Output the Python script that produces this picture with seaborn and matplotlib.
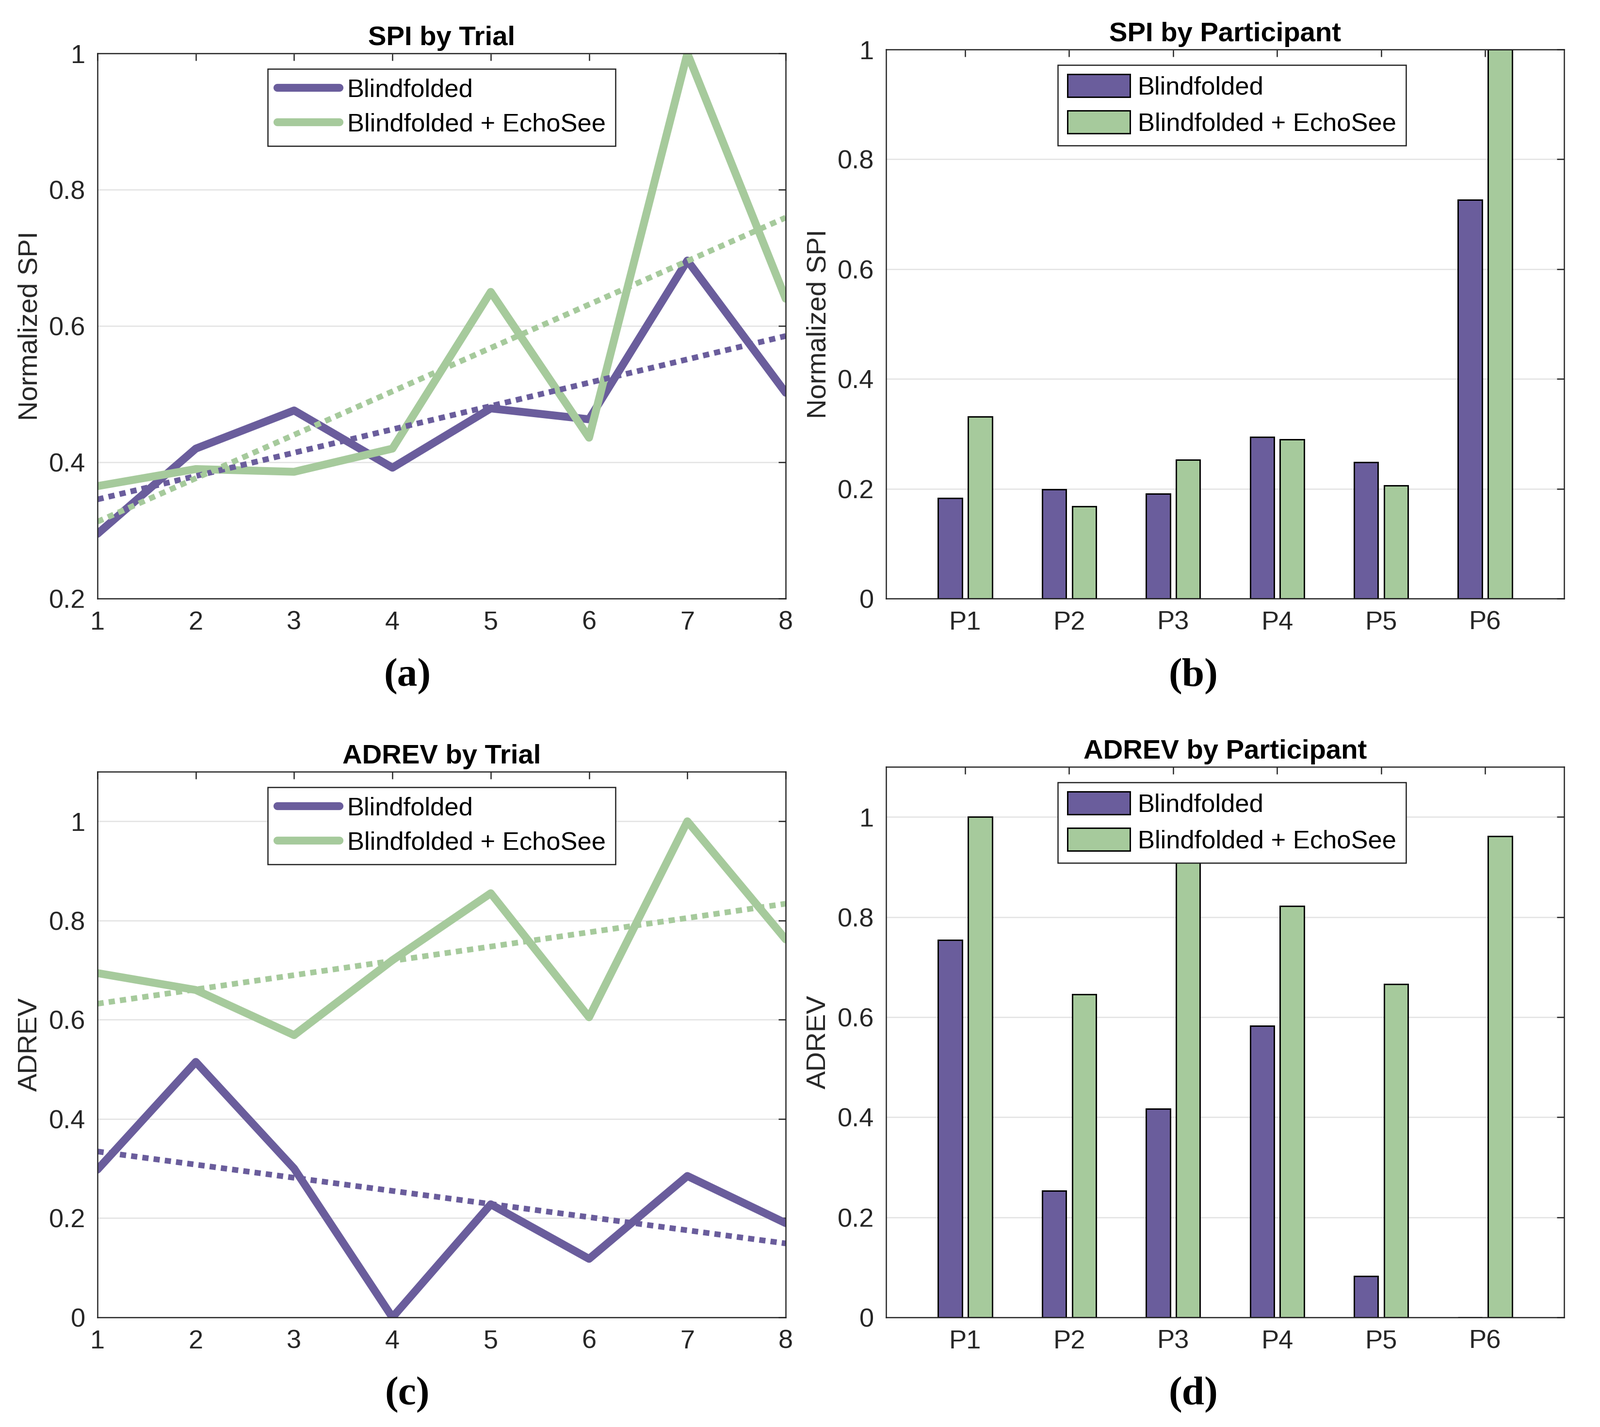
import numpy as np
import pandas as pd
import matplotlib
matplotlib.use("Agg")
import matplotlib.pyplot as plt
import seaborn as sns
from matplotlib.ticker import FuncFormatter

# ---------------- data ----------------
trials = [1, 2, 3, 4, 5, 6, 7, 8]
spi_blind = [0.295, 0.420, 0.476, 0.392, 0.479, 0.463, 0.696, 0.502]
spi_echo = [0.365, 0.390, 0.386, 0.420, 0.650, 0.436, 1.000, 0.640]
adrev_blind = [0.298, 0.515, 0.300, 0.000, 0.228, 0.118, 0.285, 0.190]
adrev_echo = [0.694, 0.660, 0.569, 0.720, 0.855, 0.605, 1.000, 0.762]

participants = ["P1", "P2", "P3", "P4", "P5", "P6"]
spi_part_blind = [0.183, 0.199, 0.191, 0.294, 0.248, 0.726]
spi_part_echo = [0.331, 0.168, 0.253, 0.290, 0.206, 1.000]
adrev_part_blind = [0.754, 0.253, 0.417, 0.582, 0.082, 0.000]
adrev_part_echo = [1.000, 0.645, 0.970, 0.822, 0.666, 0.961]

conditions = ["Blindfolded", "Blindfolded + EchoSee"]
colors = ["#6A5D9C", "#A6CA9C"]

titles = ["SPI by Trial", "SPI by Participant", "ADREV by Trial", "ADREV by Participant"]
ylabels = ["Normalized SPI", "Normalized SPI", "ADREV", "ADREV"]
panel_tags = ["(a)", "(b)", "(c)", "(d)"]

# ---------------- style ----------------
sns.set_theme(style="white")
plt.rcParams["font.family"] = ["Liberation Sans", "DejaVu Sans"]
plt.rcParams["axes.edgecolor"] = "#262626"
plt.rcParams["axes.linewidth"] = 0.6

FS = 13
LFS = 12.6
INK = "#262626"

fig = plt.figure(figsize=(3299 / 300, 2942 / 300), dpi=300)

W, H = 3299.0, 2942.0
def box(l, t, r, b):
    return [l / W, 1 - b / H, (r - l) / W, (b - t) / H]

ax_a = fig.add_axes(box(201, 110, 1620, 1234))
ax_b = fig.add_axes(box(1827, 102, 3225, 1234))
ax_c = fig.add_axes(box(201, 1591, 1620, 2716))
ax_d = fig.add_axes(box(1827, 1581, 3225, 2716))

fmt = FuncFormatter(lambda v, p: f"{v:g}")


def style_axes(ax, title, ylabel):
    ax.set_title(title, fontsize=13.5, fontweight="bold", color="black", pad=4)
    ax.set_ylabel(ylabel, fontsize=13.5, color=INK, labelpad=3)
    ax.set_xlabel("")
    ax.tick_params(direction="in", top=True, right=True, length=3.6, width=0.6,
                   color=INK, labelcolor=INK, labelsize=FS, pad=6)
    ax.yaxis.grid(True, color="#e3e3e3", lw=0.6)
    ax.xaxis.grid(False)
    ax.set_axisbelow(True)
    ax.yaxis.set_major_formatter(fmt)
    for s in ax.spines.values():
        s.set_visible(True)
        s.set_color(INK)
        s.set_linewidth(0.6)


def make_legend(ax, handles, labels, anchor_x, patch=False):
    leg = ax.legend(handles, labels, loc="upper center", bbox_to_anchor=(anchor_x, 1.0),
                    borderaxespad=0.6, fontsize=LFS, frameon=True, fancybox=False,
                    framealpha=1.0, edgecolor="#222222", handlelength=2.45,
                    handleheight=1.0 if patch else 0.7, handletextpad=0.3,
                    labelspacing=0.42, borderpad=0.38)
    leg.get_frame().set_linewidth(0.6)
    for t in leg.get_texts():
        t.set_color("black")
    return leg


def line_panel(ax, blind, echo, ylim, yticks, title, ylabel):
    df = pd.DataFrame({
        "Trial": trials * 2,
        "value": list(blind) + list(echo),
        "Condition": [conditions[0]] * len(trials) + [conditions[1]] * len(trials),
    })
    sns.lineplot(data=df, x="Trial", y="value", hue="Condition", hue_order=conditions,
                 palette=colors, lw=3.9, ax=ax, legend=True)
    leg = ax.get_legend()
    handles = list(leg.legend_handles)
    labels = [t.get_text() for t in leg.get_texts()]
    for h in handles:
        h.set_linewidth(3.9)
    for vals, c in zip([blind, echo], colors):
        sns.regplot(x=np.array(trials), y=np.array(vals), scatter=False, ci=None,
                    truncate=True, color=c, ax=ax,
                    line_kws=dict(lw=2.8, linestyle=(0, (1.1, 0.9))))
    ax.set_xlim(1, 8)
    ax.set_ylim(*ylim)
    ax.set_xticks(trials)
    ax.set_yticks(yticks)
    style_axes(ax, title, ylabel)
    make_legend(ax, handles, labels, 0.5)


def bar_panel(ax, blind, echo, ylim, yticks, title, ylabel):
    df = pd.DataFrame({
        "Participant": participants * 2,
        "value": list(blind) + list(echo),
        "Condition": [conditions[0]] * len(participants) + [conditions[1]] * len(participants),
    })
    sns.barplot(data=df, x="Participant", y="value", hue="Condition", hue_order=conditions,
                palette=colors, width=0.576, gap=0.2, edgecolor="black", linewidth=0.7,
                errorbar=None, saturation=1.0, ax=ax)
    leg = ax.get_legend()
    handles = list(leg.legend_handles)
    labels = [t.get_text() for t in leg.get_texts()]
    for h in handles:
        h.set_edgecolor("black")
        h.set_linewidth(0.7)
    ax.set_xlim(-0.76, 5.76)
    ax.set_ylim(*ylim)
    ax.set_yticks(yticks)
    style_axes(ax, title, ylabel)
    make_legend(ax, handles, labels, 0.51, patch=True)


line_panel(ax_a, spi_blind, spi_echo, (0.2, 1.0), [0.2, 0.4, 0.6, 0.8, 1.0], titles[0], ylabels[0])
bar_panel(ax_b, spi_part_blind, spi_part_echo, (0, 1.0), [0, 0.2, 0.4, 0.6, 0.8, 1.0], titles[1], ylabels[1])
line_panel(ax_c, adrev_blind, adrev_echo, (0, 1.1), [0, 0.2, 0.4, 0.6, 0.8, 1.0], titles[2], ylabels[2])
bar_panel(ax_d, adrev_part_blind, adrev_part_echo, (0, 1.1), [0, 0.2, 0.4, 0.6, 0.8, 1.0], titles[3], ylabels[3])

tag_pos = [(840, 1395), (2460, 1395), (840, 2876), (2460, 2876)]
for tag, (x, y) in zip(panel_tags, tag_pos):
    fig.text(x / W, 1 - y / H, tag, ha="center", va="center", fontsize=20,
             fontweight="bold", family=["Liberation Serif", "DejaVu Serif"], color="black")

fig.savefig("out.png", dpi=300, facecolor="white")
